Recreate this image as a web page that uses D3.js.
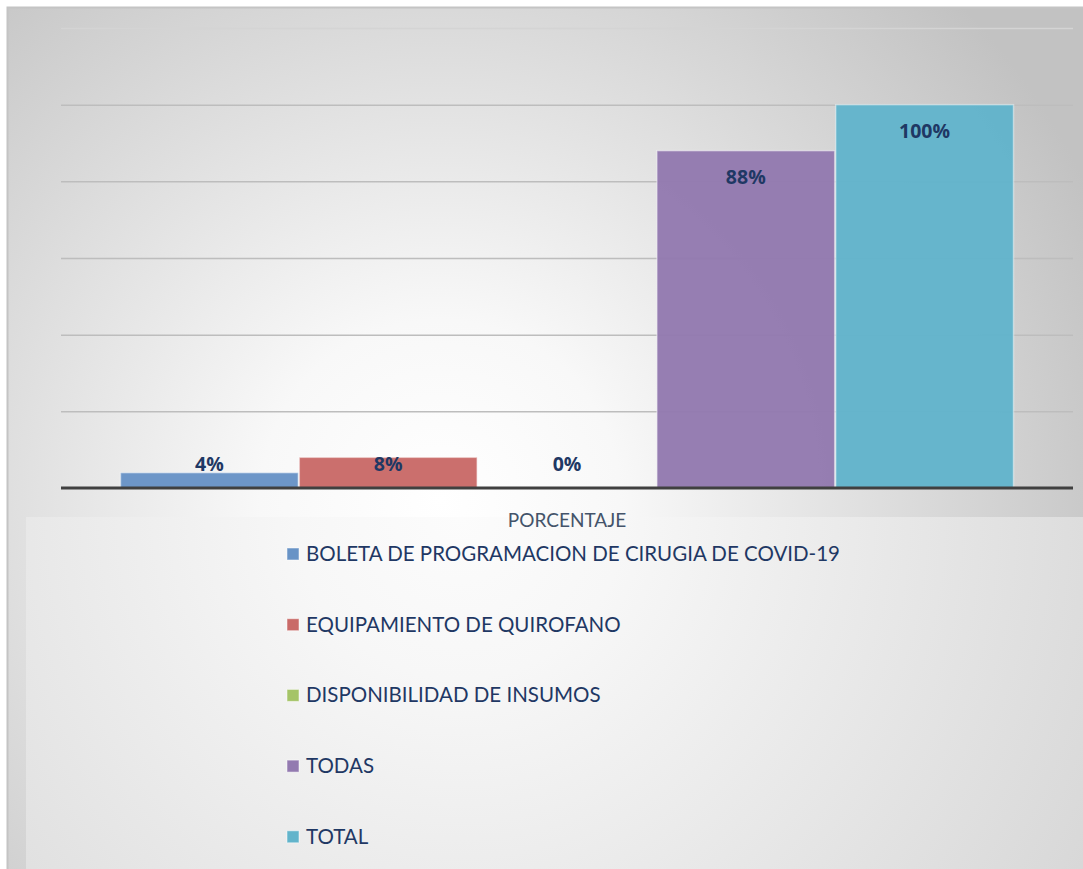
<!DOCTYPE html>
<html lang="es">
<head>
<meta charset="utf-8">
<title>PORCENTAJE</title>
<script src="https://cdn.jsdelivr.net/npm/d3@7"></script>
<style>
  body { margin: 0; background: #fff; }
  svg { display: block; font-family: Lato, "Open Sans", sans-serif; }
</style>
</head>
<body>
<script>
// data
var category = "PORCENTAJE";
var seriesNames = ["BOLETA DE PROGRAMACION DE CIRUGIA DE COVID-19", "EQUIPAMIENTO DE QUIROFANO",
                   "DISPONIBILIDAD DE INSUMOS", "TODAS", "TOTAL"];
var seriesValues = [4, 8, 0, 88, 100];
var seriesColors = ["#6893c6", "#c96a68", "#a5c468", "#937ab0", "#62b4cb"];
var yTicks = [0, 20, 40, 60, 80, 100, 120];

var w = 1083, h = 869;
var plot = { left: 61, right: 1073, top: 28, bottom: 488 };

var svg = d3.select("body").append("svg").attr("width", w).attr("height", h);
var defs = svg.append("defs");

var g1 = defs.append("radialGradient").attr("id", "bgOuter")
  .attr("gradientUnits", "userSpaceOnUse").attr("cx", 440).attr("cy", 500).attr("r", 720);
g1.append("stop").attr("offset", "0%").attr("stop-color", "#ffffff");
g1.append("stop").attr("offset", "25%").attr("stop-color", "#f8f8f8");
g1.append("stop").attr("offset", "100%").attr("stop-color", "#c2c2c2");

var g2 = defs.append("radialGradient").attr("id", "bgLegend")
  .attr("gradientUnits", "userSpaceOnUse").attr("cx", 460).attr("cy", 515).attr("r", 820);
g2.append("stop").attr("offset", "0%").attr("stop-color", "#fcfcfc");
g2.append("stop").attr("offset", "20%").attr("stop-color", "#f7f7f7");
g2.append("stop").attr("offset", "100%").attr("stop-color", "#d2d2d2");

// frame
svg.append("rect").attr("x", 7.5).attr("y", 7.5).attr("width", w).attr("height", h)
  .attr("fill", "url(#bgOuter)").attr("stroke", "#c4c4c4").attr("stroke-width", 2);

var y = d3.scaleLinear().domain([0, 120]).range([plot.bottom, plot.top]);
var x0 = d3.scaleBand().domain([category]).range([plot.left, plot.right])
  .paddingInner(0).paddingOuter(0.066);
var x1 = d3.scaleBand().domain(seriesNames).range([0, x0.bandwidth()]).padding(0);

// gridlines
var yAxis = d3.axisLeft(y).tickValues(yTicks).tickSize(-(plot.right - plot.left)).tickFormat("");
var ga = svg.append("g").attr("transform", "translate(" + plot.left + ",0)").call(yAxis);
ga.select(".domain").remove();
ga.selectAll(".tick line")
  .attr("stroke", function(d) { return d === 120 ? "#d4d4d4" : "#bdbdbd"; })
  .attr("stroke-width", function(d) { return d === 0 ? 0 : 1.5; });

// bars
var groups = svg.append("g").attr("transform", "translate(" + x0(category) + ",0)");
groups.selectAll("rect")
  .data(seriesValues)
  .enter()
  .append("rect")
  .attr("x", function(d, i) { return x1(seriesNames[i]) + 0.5; })
  .attr("y", function(d) { return y(d); })
  .attr("width", x1.bandwidth() - 1)
  .attr("height", function(d) { return y(0) - y(d); })
  .attr("fill", function(d, i) { return seriesColors[i]; })
  .attr("fill-opacity", 0.97)
  .attr("stroke", "rgba(255,255,255,0.45)")
  .attr("stroke-width", 1.5);

// baseline
svg.append("line").attr("x1", plot.left).attr("x2", plot.right)
  .attr("y1", y(0)).attr("y2", y(0))
  .attr("stroke", "#404040").attr("stroke-width", 3);

// labels
groups.selectAll("text.lbl")
  .data(seriesValues)
  .enter()
  .append("text")
  .attr("class", "lbl")
  .attr("x", function(d, i) { return x1(seriesNames[i]) + x1.bandwidth() / 2; })
  .attr("y", function(d) { return Math.min(y(d) + 27, y(0) - 24); })
  .attr("dy", "0.35em")
  .attr("text-anchor", "middle")
  .attr("font-family", "'Open Sans', Lato, sans-serif")
  .attr("font-size", "19.5px")
  .attr("font-weight", "bold")
  .attr("fill", "#1f3864")
  .text(function(d) { return d + "%"; });

// legend box
svg.append("rect").attr("x", 26).attr("y", 517).attr("width", w - 26).attr("height", h - 517)
  .attr("fill", "url(#bgLegend)");

svg.append("text").attr("x", x0(category) + x0.bandwidth() / 2).attr("y", 527)
  .attr("text-anchor", "middle").attr("font-size", "19px").attr("fill", "#44546a")
  .text(category);

var legend = svg.append("g").selectAll("g")
  .data(seriesNames)
  .enter()
  .append("g")
  .attr("transform", function(d, i) { return "translate(287," + (561 + i * 70.7) + ")"; });
legend.append("rect").attr("x", 0).attr("y", -13).attr("width", 12).attr("height", 12)
  .attr("fill", function(d, i) { return seriesColors[i]; })
  .attr("stroke", "rgba(255,255,255,0.5)").attr("stroke-width", 1);
legend.append("text").attr("x", 19).attr("y", 0)
  .attr("font-size", "20.5px").attr("fill", "#1f3864")
  .text(function(d) { return d; });
</script>
</body>
</html>
